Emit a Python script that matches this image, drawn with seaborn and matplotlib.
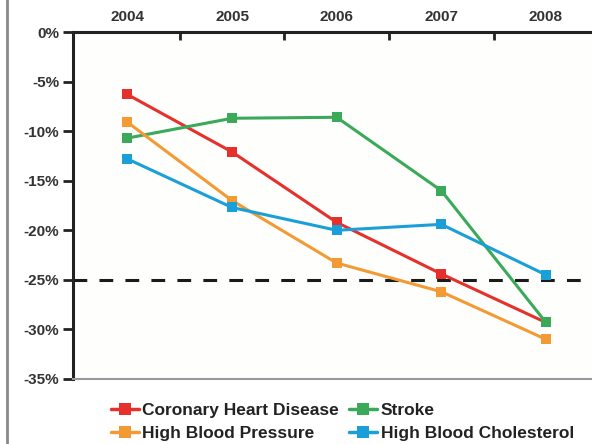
import matplotlib
matplotlib.use("Agg")
import matplotlib.pyplot as plt
import seaborn as sns
import pandas as pd
from matplotlib.lines import Line2D

years = ["2004", "2005", "2006", "2007", "2008"]
coronary = [-6.3, -12.1, -19.2, -24.4, -29.3]
stroke = [-10.7, -8.7, -8.6, -16.0, -29.3]
blood_pressure = [-9.1, -17.0, -23.3, -26.2, -31.0]
cholesterol = [-12.8, -17.7, -20.0, -19.4, -24.5]
series_names = ["Coronary Heart Disease", "Stroke", "High Blood Pressure", "High Blood Cholesterol"]
y_ticks = [0, -5, -10, -15, -20, -25, -30, -35]
y_labels = ["0%", "-5%", "-10%", "-15%", "-20%", "-25%", "-30%", "-35%"]
target = -25

colors = {"Coronary Heart Disease": "#e5302c", "Stroke": "#3aa95a",
          "High Blood Pressure": "#f39a35", "High Blood Cholesterol": "#1b9fd9"}

rows = []
for name, vals in zip(series_names, [coronary, stroke, blood_pressure, cholesterol]):
    for i, (yr, v) in enumerate(zip(years, vals)):
        rows.append({"idx": i, "year": yr, "value": v, "series": name})
df = pd.DataFrame(rows)

sns.set_style("white")
plt.rcParams["font.family"] = ["Liberation Sans", "DejaVu Sans"]
plt.rcParams["font.weight"] = "bold"

fig = plt.figure(figsize=(5.92, 4.44), dpi=100)
fig.patch.set_facecolor("white")
ax = fig.add_axes([0.1233, 0.1464, 0.8767, 0.7815])
ax.set_facecolor("#fefefc")

sns.lineplot(data=df, x="idx", y="value", hue="series", palette=colors,
             marker="s", markersize=7, markeredgewidth=0, linewidth=2.2,
             ax=ax, legend=False, hue_order=series_names)

ax.axhline(target, color="#1a1a1a", linestyle=(0, (4.5, 4)), linewidth=2.2, zorder=1)

ax.set_xlim(-0.52, 4.44)
ax.set_ylim(-35, 0)
ax.set_yticks(y_ticks)
ax.set_yticklabels(y_labels, fontsize=11, fontweight="bold", color="#333333")
ax.xaxis.tick_top()
ax.set_xticks(range(len(years)))
ax.set_xticklabels(years, fontsize=11, fontweight="bold", color="#333333")
ax.tick_params(axis="x", which="major", length=0, pad=6)
ax.set_xticks([0.5, 1.5, 2.5, 3.5], minor=True)
ax.tick_params(axis="x", which="minor", top=True, direction="in", length=6, width=2, color="#222222")
ax.tick_params(axis="y", which="major", left=True, direction="out", length=7, width=2, color="#222222", pad=3)
ax.set_xlabel("")
ax.set_ylabel("")

for s in ["left", "top"]:
    ax.spines[s].set_color("#222222")
    ax.spines[s].set_linewidth(2.2)
ax.spines["right"].set_visible(False)
ax.spines["bottom"].set_color("#999999")
ax.spines["bottom"].set_linewidth(1.5)

order = ["Coronary Heart Disease", "High Blood Pressure", "Stroke", "High Blood Cholesterol"]
handles = [Line2D([0], [0], color=colors[n], marker="s", markersize=8, markeredgewidth=0, linewidth=2.5)
           for n in order]
leg = fig.legend(handles, order, loc="lower left", bbox_to_anchor=(0.161, -0.028), ncol=2,
                 frameon=False, prop={"weight": "bold", "size": 12.5}, handlelength=1.6,
                 handletextpad=0.2, columnspacing=0.6, labelspacing=0.44)
for t in leg.get_texts():
    t.set_color("#222222")

fig.add_artist(Line2D([0.012, 0.012], [0, 1], transform=fig.transFigure, color="#888888", linewidth=2))

fig.savefig("out.png", dpi=100)
